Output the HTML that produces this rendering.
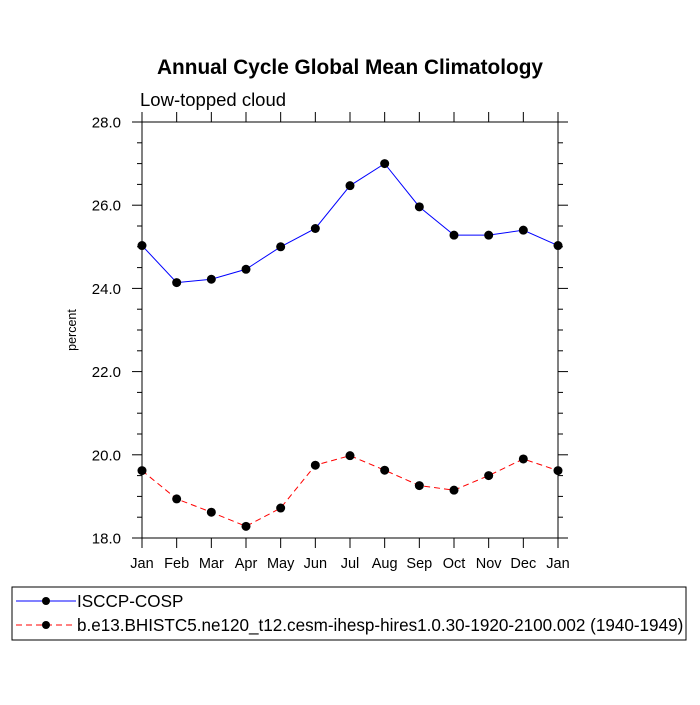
<!DOCTYPE html>
<html><head><meta charset="utf-8"><style>
body{margin:0;background:#fff;}
svg text{font-family:"Liberation Sans",Arial,sans-serif;}
</style></head><body>
<svg id="c" width="700" height="700" xmlns="http://www.w3.org/2000/svg">
<rect width="700" height="700" fill="#fff"/>
<text x="350" y="74" text-anchor="middle" font-size="20.8" font-weight="bold">Annual Cycle Global Mean Climatology</text>
<text x="140" y="106" font-size="18.5">Low-topped cloud</text>
<text transform="translate(76,330) rotate(-90)" text-anchor="middle" font-size="12.5">percent</text>
<g id="axes"></g>
<g id="series"></g>
<rect x="12" y="587" width="674" height="53" fill="none" stroke="#000" stroke-width="1"/>
<g>
<line x1="16" y1="601" x2="76" y2="601" stroke="#0000ff" stroke-width="1"/>
<circle cx="46" cy="601" r="4" fill="#000"/>
<text x="77" y="607" font-size="17.1">ISCCP-COSP</text>
</g>
<g>
<line x1="16" y1="625" x2="76" y2="625" stroke="#ff0000" stroke-width="1" stroke-dasharray="6,4"/>
<circle cx="46" cy="625" r="4" fill="#000"/>
<text x="77" y="631" font-size="17.1">b.e13.BHISTC5.ne120_t12.cesm-ihesp-hires1.0.30-1920-2100.002 (1940-1949)</text>
</g>
</svg>
<script>
const months=["Jan","Feb","Mar","Apr","May","Jun","Jul","Aug","Sep","Oct","Nov","Dec","Jan"];
const obsValues=[25.03,24.14,24.22,24.46,25.0,25.44,26.47,27.0,25.96,25.28,25.28,25.40,25.03];
const modelValues=[19.62,18.94,18.62,18.28,18.72,19.75,19.98,19.63,19.26,19.15,19.50,19.90,19.62];
const yTicks=[18,20,22,24,26,28];
const yMin=18,yMax=28;
const L=142,R=558,T=122,B=538;
const NS="http://www.w3.org/2000/svg";
function xs(i){return L+(R-L)*i/(months.length-1);}
function ys(v){return B-(B-T)*(v-yMin)/(yMax-yMin);}
function mk(tag,attrs,parent){const e=document.createElementNS(NS,tag);for(const k in attrs)e.setAttribute(k,attrs[k]);parent.appendChild(e);return e;}
const ax=document.getElementById('axes');
const frame=mk('rect',{x:L,y:T,width:R-L,height:B-T,fill:'none',stroke:'#000','stroke-width':1},ax);


for(let v=yMin;v<=yMax+1e-9;v+=0.5){
  const y=ys(v);const major=Math.abs(v-Math.round(v/2)*2)<1e-9;const len=major?10:5;
  mk('line',{x1:L-len,y1:y,x2:L,y2:y,stroke:'#000'},ax);
  mk('line',{x1:R,y1:y,x2:R+len,y2:y,stroke:'#000'},ax);
}
yTicks.forEach(v=>{
  const t=mk('text',{x:L-21,y:ys(v)+5.5,'text-anchor':'end','font-size':15},ax);
  t.textContent=v.toFixed(1);
  
  
});
months.forEach((m,i)=>{
  const x=xs(i);
  mk('line',{x1:x,y1:B,x2:x,y2:B+10,stroke:'#000'},ax);
  mk('line',{x1:x,y1:T-10,x2:x,y2:T,stroke:'#000'},ax);
  const t=mk('text',{x:x,y:B+30,'text-anchor':'middle','font-size':14.5},ax);
  t.textContent=m;
  
  
});
const sg=document.getElementById('series');
function drawSeries(vals,color,dash,name){
  const g=mk('g',{},sg);
  
  
  const pts=vals.map((v,i)=>xs(i)+','+ys(v)).join(' ');
  const a={points:pts,fill:'none',stroke:color,'stroke-width':1};
  if(dash)a['stroke-dasharray']=dash;
  mk('polyline',a,g);
  vals.forEach((v,i)=>{
    const c=mk('circle',{cx:xs(i),cy:ys(v),r:4.5,fill:'#000'},g);
    
    
  });
}
drawSeries(obsValues,'#0000ff',null,'isccp-cosp-series');
drawSeries(modelValues,'#ff0000','6,4','model-series');
</script>
</body></html>
